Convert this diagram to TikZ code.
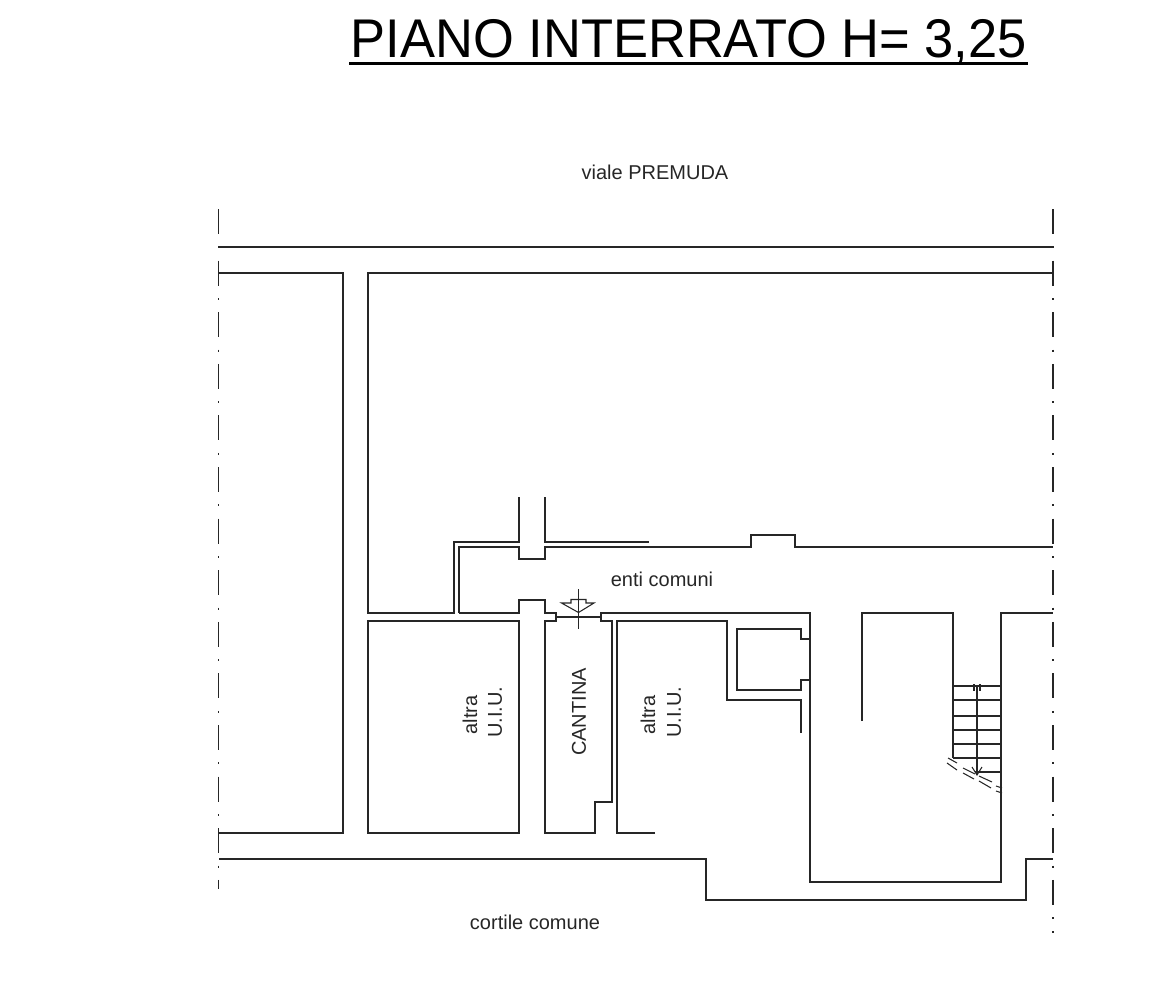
\documentclass[tikz,border=0pt]{standalone}
\usepackage{fontspec}
\setmainfont{Liberation Sans}
\tikzset{
  wall/.style={draw=black!85,line width=1.25pt,line join=miter},
  thin wall/.style={draw=black!85,line width=1.05pt},
  axis/.style={draw=black!85,line width=1.5pt,dash pattern=on 25pt off 12.4pt on 2pt off 12.2pt},
  lbl/.style={font=\fontsize{20}{22}\selectfont,inner sep=0pt,text=black!85},
  vlbl/.style={lbl,rotate=90},
  titletext/.style={font=\fontsize{54.5}{57}\selectfont,inner sep=0pt,text=black}
}
\begin{document}
\begin{tikzpicture}[x=1pt,y=-1pt]
\useasboundingbox (0,0) rectangle (1170,988);
% title
\node[titletext,anchor=base west] (title) at (350.5,57) {\scalebox{0.963}[1]{PIANO INTERRATO H= 3,25}};
\draw[black,line width=3pt] (349,63.5) -- (1028,63.5);
% labels
\node[lbl] (street) at (655,172) {viale PREMUDA};
\node[lbl] (common) at (662,579) {enti comuni};
\node[lbl] (yard) at (535,922) {cortile comune};
\node[vlbl] (a1) at (470,715) {altra};
\node[vlbl] (u1) at (495,712) {U.I.U.};
\node[vlbl] (cant) at (579,712) {CANTINA};
\node[vlbl] (a2) at (648,715) {altra};
\node[vlbl] (u2) at (674,712) {U.I.U.};
% axes
\draw[axis] (218.5,209) -- (218.5,889);
\draw[axis] (1053,209) -- (1053,933);
% street and yard
\draw[wall] (219,247) -- (1053,247);
\draw[wall] (219,859) -- (706,859) -- (706,900) -- (1026,900) -- (1026,859) -- (1053,859);
% left block
\draw[wall] (219,273) -- (343,273) -- (343,833) -- (219,833);
% main block
\draw[wall] (1053,273) -- (368,273) -- (368,613) -- (454,613) -- (454,542) -- (519,542) -- (519,497);
\draw[wall] (545,497) -- (545,542) -- (649,542);
\draw[wall] (459,613) -- (459,547) -- (519,547) -- (519,559) -- (545,559) -- (545,547) -- (751,547) -- (751,535) -- (795,535) -- (795,547) -- (1053,547);
\draw[wall] (459,613) -- (519,613) -- (519,600) -- (545,600) -- (545,613) -- (556,613) -- (556,621) -- (545,621) -- (545,833) -- (595,833) -- (595,802) -- (612,802) -- (612,621) -- (601,621) -- (601,613) -- (810,613) -- (810,882) -- (1001,882) -- (1001,613) -- (1053,613);
\draw[thin wall] (556,617) -- (601,617);
% room
\draw[wall] (368,621) rectangle (519,833);
% right room
\draw[wall] (655,833) -- (617,833) -- (617,621) -- (727,621) -- (727,700) -- (801,700) -- (801,733);
\draw[wall] (810,639) -- (801,639) -- (801,629) -- (737,629) -- (737,690) -- (801,690) -- (801,680) -- (810,680);
% stair well
\draw[wall] (862,721) -- (862,613) -- (953,613) -- (953,758);
\foreach \yy in {686,700,716,730,744,758} \draw[thin wall] (953,\yy) -- (1001,\yy);
\draw[thin wall] (975,772) -- (1001,772);
\draw[thin wall] (977,686) -- (977,775);
\draw[thin wall] (974,684) -- (974,691) (980,684) -- (980,691);
\draw[thin wall] (972,767) -- (977,775) -- (982,767);
% break lines
\draw[thin wall] (948,758) -- (957,763) (947,763) -- (957,770);
\draw[thin wall] (963,768) -- (975,774) (963,773) -- (974,779);
\draw[thin wall] (979,776) -- (992,782) (979,781) -- (991,788);
\draw[thin wall] (996,786) -- (1002,788) (996,791) -- (1002,793);
% door arrow
\draw[thin wall] (578.5,589) -- (578.5,629);
\draw[thin wall] (571,603) -- (571,599.5) -- (586,599.5) -- (586,603) -- (594,603) -- (578.5,612.5) -- (561.5,603) -- cycle;
\end{tikzpicture}
\end{document}
